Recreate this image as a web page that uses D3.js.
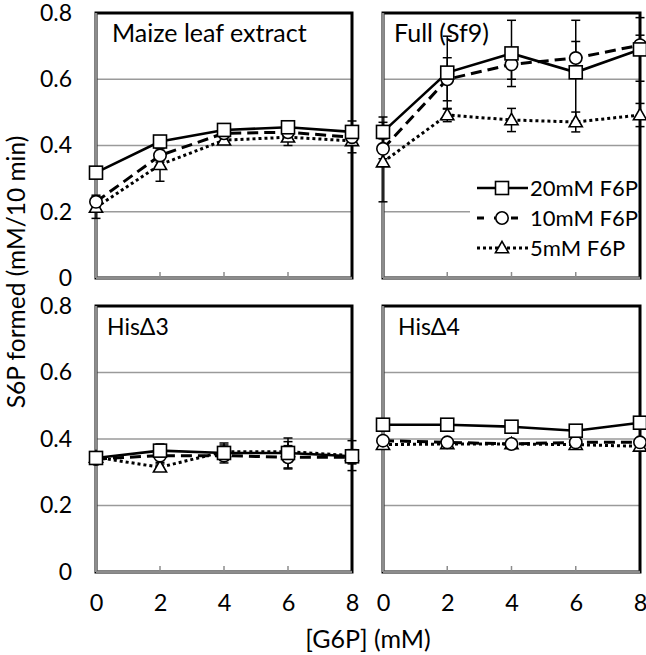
<!DOCTYPE html>
<html><head><meta charset="utf-8">
<script src="https://cdn.jsdelivr.net/npm/d3@7"></script>
<style>
html,body{margin:0;padding:0;background:#fff;}
svg{display:block;}
text{font-family:Lato,"Open Sans",sans-serif;fill:#000;}
</style></head>
<body><svg id="c" width="646" height="655"></svg>
<script>
// ---- data ----
const xValues = [0, 2, 4, 6, 8];
const xTickLabels = ["0", "2", "4", "6", "8"];
const yTickValues = [0, 0.2, 0.4, 0.6, 0.8];
const yTickLabels = ["0", "0.2", "0.4", "0.6", "0.8"];
const panelTitles = ["Maize leaf extract", "Full (Sf9)", "HisΔ3", "HisΔ4"];
const seriesNames = ["20mM F6P", "10mM F6P", "5mM F6P"];
const yAxisTitle = "S6P formed (mM/10 min)";
const xAxisTitle = "[G6P] (mM)";

const maize20 = [0.318, 0.412, 0.447, 0.455, 0.441];
const maize10 = [0.230, 0.370, 0.437, 0.440, 0.425];
const maize5  = [0.213, 0.342, 0.416, 0.425, 0.414];
const maizeErr20 = [0.010, 0.010, 0.010, 0.010, 0.033];
const maizeErr10 = [0.020, 0.020, 0.010, 0.020, 0.020];
const maizeErr5  = [0.033, 0.050, 0.010, 0.025, 0.036];

const full20 = [0.441, 0.620, 0.678, 0.621, 0.690];
const full10 = [0.390, 0.600, 0.645, 0.664, 0.703];
const full5  = [0.350, 0.492, 0.477, 0.471, 0.492];
const fullErr20 = [0.045, 0.110, 0.100, 0.157, 0.096];
const fullErr10 = [0.030, 0.065, 0.045, 0.050, 0.030];
const fullErr5  = [0.120, 0.020, 0.035, 0.030, 0.035];

const his3_20 = [0.343, 0.365, 0.358, 0.358, 0.348];
const his3_10 = [0.340, 0.350, 0.350, 0.345, 0.345];
const his3_5  = [0.345, 0.315, 0.362, 0.362, 0.350];
const his3Err20 = [0.005, 0.020, 0.030, 0.045, 0.020];
const his3Err10 = [0.005, 0.020, 0.015, 0.035, 0.020];
const his3Err5  = [0.005, 0.010, 0.020, 0.030, 0.045];

const his4_20 = [0.443, 0.443, 0.437, 0.425, 0.449];
const his4_10 = [0.395, 0.390, 0.385, 0.390, 0.390];
const his4_5  = [0.383, 0.385, 0.385, 0.383, 0.378];
const his4Err20 = [0.008, 0.006, 0.006, 0.008, 0.008];
const his4Err10 = [0.008, 0.006, 0.010, 0.006, 0.006];
const his4Err5  = [0.006, 0.006, 0.006, 0.006, 0.008];

const panelValues = [[maize20, maize10, maize5], [full20, full10, full5], [his3_20, his3_10, his3_5], [his4_20, his4_10, his4_5]];
const panelErrors = [[maizeErr20, maizeErr10, maizeErr5], [fullErr20, fullErr10, fullErr5], [his3Err20, his3Err10, his3Err5], [his4Err20, his4Err10, his4Err5]];

// ---- layout ----
const svg = d3.select("#c");
const colLeft = [96, 383];
const rowTop = [13, 306];
const pw = 256, ph = 266;
const titleDx = [16, 11, 11, 15];
const titleSize = [25, 25, 23, 23];
const styles = [
  {dash: null, width: 2.6, marker: "square"},
  {dash: "11,6", width: 3, marker: "circle"},
  {dash: "3,3", width: 3, marker: "triangle"}
];

function drawMarker(g, type, cx, cy) {
  if (type === "square") {
    g.append("rect").attr("x", cx - 6.5).attr("y", cy - 6.5).attr("width", 13).attr("height", 13)
      .attr("fill", "#fff").attr("stroke", "#000").attr("stroke-width", 1.6);
  } else if (type === "circle") {
    g.append("circle").attr("cx", cx).attr("cy", cy).attr("r", 6.2)
      .attr("fill", "#fff").attr("stroke", "#000").attr("stroke-width", 1.6);
  } else {
    g.append("path").attr("d", d3.symbol(d3.symbolTriangle, 75)())
      .attr("transform", `translate(${cx},${cy + 1})`)
      .attr("fill", "#fff").attr("stroke", "#000").attr("stroke-width", 1.6);
  }
}

panelTitles.forEach((title, pi) => {
  const col = pi % 2, row = Math.floor(pi / 2);
  const g = svg.append("g").attr("transform", `translate(${colLeft[col]},${rowTop[row]})`);
  const x = d3.scaleLinear().domain([0, 8]).range([0, pw + (col === 1 ? 1 : 0)]);
  const y = d3.scaleLinear().domain([0, 0.8]).range([row === 0 ? ph - 1 : ph, 0]);
  const h = y(0);

  // gridlines
  g.selectAll(".grid").data([0.2, 0.4, 0.6]).enter().append("line")
    .attr("x1", 0).attr("x2", x(8)).attr("y1", d => y(d)).attr("y2", d => y(d))
    .attr("stroke", "#9a9a9a").attr("stroke-width", 1.5);

  // border
  g.append("rect").attr("x", 0).attr("y", 0).attr("width", x(8)).attr("height", h)
    .attr("fill", "none").attr("stroke", "#000").attr("stroke-width", 3);
  // grey axes
  g.append("line").attr("x1", 0).attr("x2", 0).attr("y1", 0).attr("y2", h)
    .attr("stroke", "#8c8c8c").attr("stroke-width", 2.5);
  g.append("line").attr("x1", 0).attr("x2", x(8)).attr("y1", h).attr("y2", h)
    .attr("stroke", "#8c8c8c").attr("stroke-width", 2.5);
  // inward x ticks
  g.selectAll(".xt").data([2, 4, 6]).enter().append("line")
    .attr("x1", d => x(d)).attr("x2", d => x(d)).attr("y1", h).attr("y2", h - 6)
    .attr("stroke", "#8c8c8c").attr("stroke-width", 1.5);

  // axes labels via d3 axis
  if (col === 0) {
    const ya = d3.axisLeft(y).tickValues(yTickValues).tickFormat((d, i) => yTickLabels[i]).tickSize(0).tickPadding(24);
    const ag = g.append("g").call(ya);
    ag.select(".domain").remove();
    ag.selectAll("text").style("font-size", "23px").style("font-family", "Lato, sans-serif");
  }
  if (row === 1) {
    const xa = d3.axisBottom(x).tickValues(xValues).tickFormat((d, i) => xTickLabels[i]).tickSize(0).tickPadding(22);
    const ag = g.append("g").attr("transform", `translate(0,${h})`).call(xa);
    ag.select(".domain").remove();
    ag.selectAll("text").style("font-size", "23.5px").style("font-family", "Lato, sans-serif");
  }

  // series
  const vals = panelValues[pi], errs = panelErrors[pi];
  vals.forEach((s, si) => {
    s.forEach((v, i) => {
      const e = errs[si][i];
      const cx = x(xValues[i]);
      const eg = g.append("g").attr("stroke", "#000").attr("stroke-width", 1.5);
      eg.append("line").attr("x1", cx).attr("x2", cx).attr("y1", y(v - e)).attr("y2", y(v + e));
      eg.append("line").attr("x1", cx - 4.5).attr("x2", cx + 4.5).attr("y1", y(v - e)).attr("y2", y(v - e));
      eg.append("line").attr("x1", cx - 4.5).attr("x2", cx + 4.5).attr("y1", y(v + e)).attr("y2", y(v + e));
    });
  });
  const line = d3.line().x((d, i) => x(xValues[i])).y(d => y(d));
  [2, 1, 0].forEach(si => {
    const st = styles[si];
    g.append("path").datum(vals[si]).attr("d", line).attr("fill", "none")
      .attr("stroke", "#000").attr("stroke-width", st.width)
      .attr("stroke-dasharray", st.dash);
  });
  [2, 1, 0].forEach(si => {
    vals[si].forEach((v, i) => drawMarker(g, styles[si].marker, x(xValues[i]), y(v)));
  });

  // title
  g.append("text").attr("x", titleDx[pi]).attr("y", row === 0 ? 29 : 29)
    .style("font-size", titleSize[pi] + "px").text(title);

  // legend in Full panel
  if (pi === 1) {
    const lg = g.append("g").attr("transform", "translate(87,159)");
    lg.append("rect").attr("x", 0).attr("y", 0).attr("width", 168).attr("height", 92).attr("fill", "#fff");
    seriesNames.forEach((name, si) => {
      const ly = 16 + si * 30;
      const st = styles[si];
      lg.append("line").attr("x1", 7).attr("x2", 58).attr("y1", ly).attr("y2", ly)
        .attr("stroke", "#000").attr("stroke-width", st.width)
        .attr("stroke-dasharray", si === 1 ? "7,10" : st.dash);
      drawMarker(lg, st.marker, 32, ly);
      lg.append("text").attr("x", 60).attr("y", ly).attr("dy", "0.35em")
        .style("font-size", "22px").text(name);
    });
  }
});

// axis titles
svg.append("text").attr("transform", "translate(25,272) rotate(-90)").attr("text-anchor", "middle")
  .style("font-size", "24.5px").text(yAxisTitle);
svg.append("text").attr("x", 368).attr("y", 648).attr("text-anchor", "middle")
  .style("font-size", "25px").text(xAxisTitle);
</script></body></html>
